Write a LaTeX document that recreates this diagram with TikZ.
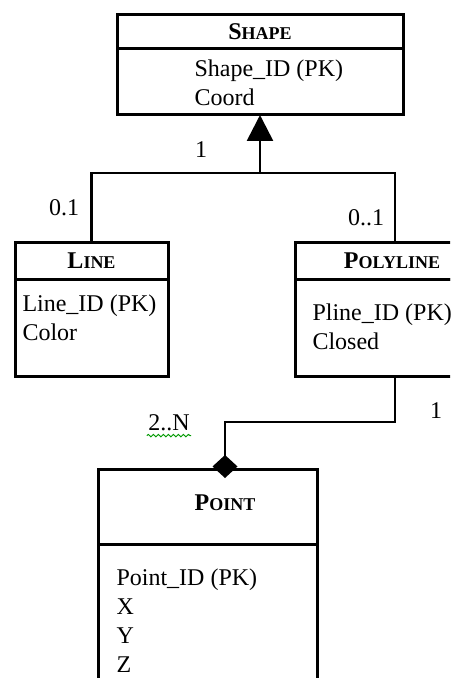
\documentclass[tikz,border=0pt]{standalone}
\usepackage{fontspec}
\setmainfont{Liberation Serif}
\usetikzlibrary{arrows.meta,decorations.pathmorphing}
\newcommand{\clsname}[2]{\textbf{#1{\fontsize{9pt}{10pt}\selectfont #2}}}
\begin{document}
\begin{tikzpicture}[x=0.5pt,y=-0.5pt,line width=1.5pt,
  font=\fontsize{12pt}{14.5pt}\selectfont,
  hdr/.style={draw,inner sep=0pt,outer sep=0pt},
  body/.style={draw,inner sep=0pt,outer sep=0pt,anchor=north},
  attr/.style={anchor=north west,align=left,inner sep=0pt},
  mult/.style={inner sep=0pt},
  conn/.style={line width=1.3pt}]
\useasboundingbox (0,0) rectangle (450,678);
\clip (0,0) rectangle (450,678);

\node[hdr,minimum width=143pt,minimum height=17pt] (shapeH) at (260,32) {\clsname{S}{HAPE}};
\node[body,minimum width=143pt,minimum height=33pt] (shapeB) at (shapeH.south) {};
\node[attr] (shapeT) at (193,58) {Shape\_ID (PK)\\Coord};

\node[hdr,minimum width=76.5pt,minimum height=18pt] (lineH) at (91.5,261) {\clsname{L}{INE}};
\node[body,minimum width=76.5pt,minimum height=48.5pt] (lineB) at (lineH.south) {};
\node[attr] (lineT) at (21,293) {Line\_ID (PK)\\Color};

\node[hdr,minimum width=100pt,minimum height=18pt] (polyH) at (395,261) {\clsname{P}{OLYLINE}\hspace*{3pt}};
\node[body,minimum width=100pt,minimum height=48.5pt] (polyB) at (polyH.south) {};
\node[attr] (polyT) at (311,302) {Pline\_ID (PK)\\Closed};

\node[hdr,minimum width=109.5pt,minimum height=37.5pt,
  label={[xshift=8.75pt,yshift=2pt]center:\clsname{P}{OINT}}] (pointH) at (207.5,506.5) {};
\node[body,minimum width=109.5pt,minimum height=80pt] (pointB) at (pointH.south) {};
\node[attr] (pointT) at (115,567) {Point\_ID (PK)\\X\\Y\\Z};

\coordinate (bus) at (260,173);
\coordinate (elbow) at (225,422);
\draw[conn] (lineH.north) -- (lineH.north |- bus) -- (polyH.north |- bus) -- (polyH.north);
\draw[conn,-{Triangle[length=13pt,width=13pt]}] (bus) -- (shapeB.south);
\draw[conn,-{Diamond[length=11.5pt,width=12.5pt]},shorten >=-4.5pt] (polyB.south) |- (elbow) -- (elbow |- pointH.north);

\node[mult] (mShape) at (201,150) {1};
\node[mult] (mLine) at (64,208) {0.1};
\node[mult] (mPoly) at (366,218) {0..1};
\node[mult] (mOwner) at (436,411) {1};
\node[mult] (mPart) at (169,423) {2..N};
\draw[green!60!black,line width=0.5pt,decorate,decoration={snake,amplitude=0.6pt,segment length=2.5pt}]
  ([yshift=-1.5pt]mPart.south west) -- ([yshift=-1.5pt]mPart.south east);
\end{tikzpicture}
\end{document}
